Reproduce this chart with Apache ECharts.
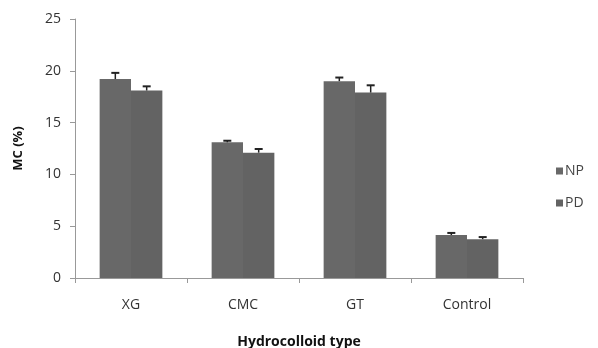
<!DOCTYPE html>
<html>
<head>
<meta charset="utf-8">
<script src="https://cdn.jsdelivr.net/npm/echarts@6/dist/echarts.min.js"></script>
<style>html,body{margin:0;padding:0;background:#fff;}#c{width:598px;height:348px;}</style>
</head>
<body>
<div id="c"></div>
<script>
var categories = ['XG', 'CMC', 'GT', 'Control'];
var seriesNames = ['NP', 'PD'];
var npValues = [19.2, 13.1, 19.0, 4.15];
var pdValues = [18.1, 12.1, 17.9, 3.75];
var npErrors = [0.6, 0.15, 0.35, 0.2];
var pdErrors = [0.4, 0.35, 0.7, 0.2];
var yTicks = [0, 5, 10, 15, 20, 25];

var CAT_GAP = 0.44;
var FONT = '"Open Sans", Lato, sans-serif';

function errorSeries(values, errors, idx) {
  var data = values.map(function (v, i) { return [i, v, v + errors[i]]; });
  return {
    type: 'custom',
    name: seriesNames[idx] + ' err',
    data: data,
    z: 5,
    silent: true,
    renderItem: function (params, api) {
      var band = api.size([1, 0])[0];
      var bw = band * (1 - CAT_GAP) / 2;
      var off = (idx === 0 ? -1 : 1) * bw / 2;
      var base = api.coord([api.value(0), api.value(1)]);
      var top = api.coord([api.value(0), api.value(2)]);
      var x = base[0] + off;
      var style = { stroke: '#222', lineWidth: 1.5 };
      return {
        type: 'group',
        children: [
          { type: 'line', shape: { x1: x, y1: base[1], x2: x, y2: top[1] }, style: style },
          { type: 'line', shape: { x1: x - 4, y1: top[1], x2: x + 4, y2: top[1] }, style: { stroke: '#222', lineWidth: 2 } }
        ]
      };
    }
  };
}

var chart = echarts.init(document.getElementById('c'));
chart.setOption({
  animation: false,
  backgroundColor: '#fff',
  grid: { left: 75, right: 75, top: 19, bottom: 70, containLabel: false, outerBoundsMode: 'none' },
  legend: {
    data: seriesNames,
    orient: 'vertical',
    left: 551,
    top: 159,
    itemWidth: 7,
    itemHeight: 7,
    itemGap: 18,
    icon: 'rect',
    textStyle: { fontFamily: FONT, fontSize: 14, color: '#444', padding: [0, 0, 0, -3] }
  },
  xAxis: {
    type: 'category',
    data: categories,
    name: 'Hydrocolloid type',
    nameLocation: 'middle',
    nameGap: 57,
    nameTextStyle: { fontFamily: FONT, fontSize: 14, fontWeight: 'bold', color: '#111' },
    axisLine: { lineStyle: { color: '#999', width: 1 } },
    axisTick: { show: true, length: 5, lineStyle: { color: '#999' } },
    axisLabel: { fontFamily: FONT, fontSize: 14, color: '#333', margin: 20 }
  },
  yAxis: {
    type: 'value',
    min: 0,
    max: 25,
    interval: 5,
    name: 'MC (%)',
    nameLocation: 'middle',
    nameGap: 50,
    nameTextStyle: { fontFamily: FONT, fontSize: 13, fontWeight: 'bold', color: '#111' },
    axisLine: { show: true, lineStyle: { color: '#999', width: 1 } },
    axisTick: { show: true, length: 5, lineStyle: { color: '#999' } },
    splitLine: { show: false },
    axisLabel: {
      fontFamily: FONT, fontSize: 14, color: '#333', margin: 14,
      formatter: function (v) { return yTicks.indexOf(v) >= 0 ? String(v) : ''; }
    }
  },
  series: [
    { type: 'bar', name: seriesNames[0], data: npValues, barGap: '0%', barCategoryGap: (CAT_GAP * 100) + '%',
      itemStyle: { color: '#686868' } },
    { type: 'bar', name: seriesNames[1], data: pdValues, barGap: '0%', barCategoryGap: (CAT_GAP * 100) + '%',
      itemStyle: { color: '#636363' } },
    errorSeries(npValues, npErrors, 0),
    errorSeries(pdValues, pdErrors, 1)
  ]
});
</script>
</body>
</html>
